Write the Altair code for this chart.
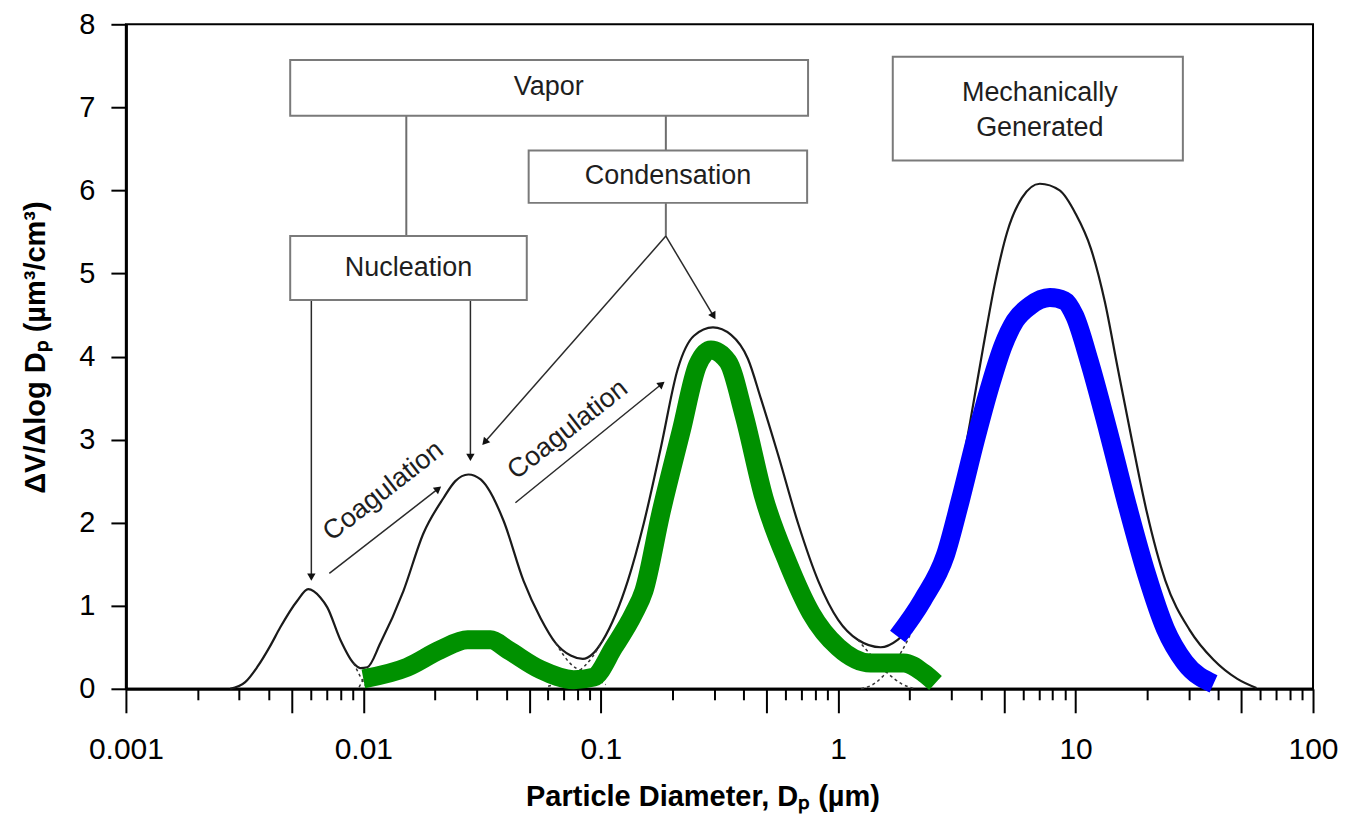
import altair as alt
import pandas as pd

# ---------------- data ----------------
# total volume distribution (thin black curve)
total_x = [0.00275, 0.00318, 0.00357, 0.00406, 0.00447, 0.00527, 0.00586, 0.00659, 0.00705, 0.0080,
           0.00908, 0.00971, 0.0104, 0.0118, 0.01476, 0.0179, 0.0218, 0.0244, 0.0277, 0.0312,
           0.0334, 0.0390, 0.0473, 0.0558, 0.0646, 0.0747, 0.0840, 0.0925, 0.1019, 0.1157,
           0.130, 0.152, 0.179, 0.211, 0.247, 0.297, 0.354, 0.417, 0.473, 0.558,
           0.678, 0.824, 1.0, 1.21, 1.51, 1.78, 2.12, 2.45, 2.83, 3.24,
           3.60, 4.08, 4.58, 5.14, 5.94, 7.07, 8.57, 10.0, 11.6, 13.3,
           15.0, 17.3, 19.9, 23.9, 30.2, 38.1, 48.0, 57.8]
total_y = [0.0, 0.08, 0.26, 0.52, 0.74, 1.06, 1.20, 1.10, 0.98, 0.59,
           0.31, 0.25, 0.26, 0.55, 1.18, 1.87, 2.30, 2.50, 2.58, 2.52,
           2.42, 2.02, 1.30, 0.85, 0.55, 0.40, 0.36, 0.42, 0.58, 0.90,
           1.30, 2.00, 2.90, 3.85, 4.25, 4.35, 4.26, 3.97, 3.49, 2.82,
           1.99, 1.30, 0.83, 0.59, 0.50, 0.59, 0.83, 1.12, 1.66, 2.50,
           3.22, 4.11, 4.89, 5.49, 5.91, 6.08, 6.00, 5.72, 5.30, 4.65,
           3.88, 2.98, 2.14, 1.30, 0.71, 0.35, 0.12, 0.01]

# dotted mode tails visible in the valleys
tail_id = ["a"] * 3 + ["b"] * 3 + ["c"] * 5 + ["d"] * 5 + ["e"] * 5 + ["f"] * 5
tail_x = [0.0091, 0.0097, 0.0103,
          0.0096, 0.0100, 0.0106,
          0.0646, 0.0747, 0.0840, 0.095, 0.105,
          0.060, 0.070, 0.080, 0.092, 0.1019,
          1.21, 1.40, 1.60, 1.85, 2.10,
          1.25, 1.45, 1.65, 1.85, 2.05]
tail_y = [0.31, 0.15, 0.02,
          0.02, 0.12, 0.28,
          0.55, 0.30, 0.20, 0.12, 0.05,
          0.03, 0.10, 0.20, 0.38, 0.58,
          0.59, 0.38, 0.20, 0.06, 0.0,
          0.0, 0.08, 0.25, 0.45, 0.70]

# hand-drawn green overlay
green_x = [0.0100, 0.0153, 0.0211, 0.0275, 0.0343, 0.0406, 0.0558, 0.0769, 0.0933, 0.1135,
           0.138, 0.152, 0.179, 0.218, 0.256, 0.291, 0.343, 0.401, 0.487, 0.615,
           0.769, 1.0, 1.37, 1.89, 2.29, 2.57]
green_y = [0.12, 0.26, 0.47, 0.59, 0.59, 0.47, 0.23, 0.11, 0.14, 0.50,
           0.91, 1.18, 2.11, 3.10, 3.90, 4.08, 3.94, 3.30, 2.30, 1.51,
           0.91, 0.50, 0.31, 0.31, 0.19, 0.07]

# hand-drawn blue overlay
blue_x = [1.78, 2.27, 2.83, 3.27, 3.78, 4.37, 4.95, 5.56, 6.42, 7.79,
          9.00, 9.91, 11.4, 13.7, 16.5, 19.9, 23.9, 28.8, 38.1]
blue_y = [0.63, 1.07, 1.61, 2.27, 2.99, 3.65, 4.13, 4.43, 4.61, 4.71,
          4.67, 4.49, 3.95, 3.11, 2.21, 1.38, 0.72, 0.32, 0.06]

# annotation boxes (data coordinates)
box_x = [0.00492, 0.0497, 0.00492, 1.698]
box_x2 = [0.7467, 0.740, 0.0488, 28.3]
box_y = [7.57, 6.48, 5.45, 7.61]
box_y2 = [6.90, 5.85, 4.68, 6.36]

label_text = ["Vapor", "Condensation", "Nucleation", "Mechanically", "Generated"]
label_x = [0.0604, 0.192, 0.01549, 7.07, 7.07]
label_y = [7.24, 6.17, 5.06, 7.17, 6.75]

# plain connector lines
conn_x = [0.01517, 0.188, 0.188]
conn_x2 = [0.01517, 0.188, 0.188]
conn_y = [6.90, 6.90, 5.85]
conn_y2 = [5.45, 6.48, 5.45]

# arrows (start -> tip) and head directions
arrow_x = [0.188, 0.188, 0.00604, 0.02825, 0.00719, 0.0437]
arrow_y = [5.45, 5.45, 4.68, 4.68, 1.39, 2.24]
arrow_x2 = [0.0327, 0.297, 0.00604, 0.02825, 0.0205, 0.179]
arrow_y2 = [2.98, 4.50, 1.36, 2.80, 2.40, 3.66]
arrow_ang = [221, 150, 180, 180, 52, 51]

coag_text = ["Coagulation", "Coagulation"]
coag_x = [0.01214, 0.0726]
coag_y = [2.38, 3.12]

x_minor = [0.002, 0.003, 0.004, 0.006, 0.007, 0.008, 0.009,
           0.02, 0.03, 0.04, 0.06, 0.07, 0.08, 0.09,
           0.2, 0.3, 0.4, 0.6, 0.7, 0.8, 0.9,
           2, 3, 4, 6, 7, 8, 9,
           20, 30, 40, 60, 70, 80, 90]
x_long = [0.001, 0.005, 0.01, 0.05, 0.1, 0.5, 1, 5, 10, 50, 100]
x_label_values = [0.001, 0.01, 0.1, 1, 10, 100]
x_tick_labels = ["0.001", "0.01", "0.1", "1", "10", "100"]
y_tick_values = [0, 1, 2, 3, 4, 5, 6, 7, 8]

FONT = "Liberation Sans"

# ---------------- axes ----------------
label_expr = "".join(
    f"datum.value === {v} ? '{l}' : " for v, l in zip(x_label_values, x_tick_labels)
) + "''"
long_list = "[" + ",".join(repr(v) for v in x_long) + "]"

xscale = alt.Scale(type="log", domain=[0.001, 100], nice=False)
yscale = alt.Scale(domain=[0, 8], nice=False)

xaxis = alt.Axis(
    values=sorted(x_long + x_minor),
    labelExpr=label_expr,
    tickSize={"condition": {"test": f"indexof({long_list}, datum.value) >= 0", "value": 24}, "value": 11},
    labelPadding=22,
    labelFontSize=30,
    labelOverlap=False,
    labelFlush=False,
    grid=False,
    title="Particle Diameter, D\u209a (\u00b5m)",
    titleFontSize=29,
    titleFontWeight="bold",
    titleX=577,
    titleY=117,
    titleAlign="center",
    titleBaseline="alphabetic",
)
yaxis = alt.Axis(
    values=y_tick_values,
    tickSize=15,
    labelPadding=16,
    labelFontSize=29,
    grid=False,
    title="\u0394V/\u0394log D\u209a (\u00b5m\u00b3/cm\u00b3)",
    titleFontSize=29,
    titleFontWeight="bold",
    titleX=-90,
    titleY=323,
    titleAngle=270,
    titleAlign="center",
    titleBaseline="middle",
)

X = alt.X("x:Q", scale=xscale, axis=xaxis)
Y = alt.Y("y:Q", scale=yscale, axis=yaxis)

# ---------------- layers ----------------
df_total = pd.DataFrame({"x": total_x, "y": total_y})
df_tail = pd.DataFrame({"x": tail_x, "y": tail_y, "seg": tail_id})
df_green = pd.DataFrame({"x": green_x, "y": green_y})
df_blue = pd.DataFrame({"x": blue_x, "y": blue_y})
df_box = pd.DataFrame({"x": box_x, "x2": box_x2, "y": box_y, "y2": box_y2})
df_label = pd.DataFrame({"x": label_x, "y": label_y, "t": label_text})
df_conn = pd.DataFrame({"x": conn_x, "x2": conn_x2, "y": conn_y, "y2": conn_y2})
df_arrow = pd.DataFrame({"x": arrow_x, "x2": arrow_x2, "y": arrow_y, "y2": arrow_y2, "ang": arrow_ang})
df_head = pd.DataFrame({"x": arrow_x2, "y": arrow_y2, "ang": arrow_ang})
df_coag = pd.DataFrame({"x": coag_x, "y": coag_y, "t": coag_text})

total = alt.Chart(df_total).mark_line(color="#1a1a1a", strokeWidth=2.2, interpolate="monotone").encode(x=X, y=Y)
tails = alt.Chart(df_tail).mark_line(color="#333333", strokeWidth=1.5, strokeDash=[3, 3],
                                     interpolate="monotone").encode(x=X, y=Y, detail="seg:N")
green = alt.Chart(df_green).mark_line(color="#009100", strokeWidth=19, interpolate="monotone",
                                      strokeCap="butt", strokeJoin="round").encode(x=X, y=Y)
blue = alt.Chart(df_blue).mark_line(color="#0000ff", strokeWidth=19, interpolate="monotone",
                                    strokeCap="butt", strokeJoin="round").encode(x=X, y=Y)
conns = alt.Chart(df_conn).mark_rule(color="#6e6e6e", strokeWidth=2).encode(
    x=X, y=Y, x2="x2:Q", y2="y2:Q")
boxes = alt.Chart(df_box).mark_rect(fill="white", stroke="#7a7a7a", strokeWidth=2).encode(
    x=X, y=Y, x2="x2:Q", y2="y2:Q")
labels = alt.Chart(df_label).mark_text(font=FONT, fontSize=27, color="#1e1e1e").encode(
    x=X, y=Y, text="t:N")
arrows = alt.Chart(df_arrow).mark_rule(color="#2a2a2a", strokeWidth=1.5).encode(
    x=X, y=Y, x2="x2:Q", y2="y2:Q")
heads = alt.Chart(df_head).mark_point(shape="triangle", filled=True, color="#111111", size=70,
                                      opacity=1).encode(
    x=X, y=Y, angle=alt.Angle("ang:Q", scale=None))
coag = alt.Chart(df_coag).mark_text(font=FONT, fontSize=27, color="#1e1e1e", angle=322).encode(
    x=X, y=Y, text="t:N")

chart = alt.layer(
    conns, arrows, heads, boxes, labels, coag, total, tails, green, blue
).properties(
    width=1188,
    height=665,
    autosize=alt.AutoSizeParams(type="none"),
    padding={"left": 118, "top": 16, "right": 28, "bottom": 126},
    background="white",
).configure(
    font=FONT,
).configure_view(
    stroke="black",
    strokeWidth=2,
).configure_axis(
    domainColor="black",
    domainWidth=3,
    tickColor="black",
    tickWidth=2,
    labelColor="black",
    titleColor="black",
    labelFont=FONT,
    titleFont=FONT,
)

chart.save("out.html", embed_options={"renderer": "svg", "actions": False})
